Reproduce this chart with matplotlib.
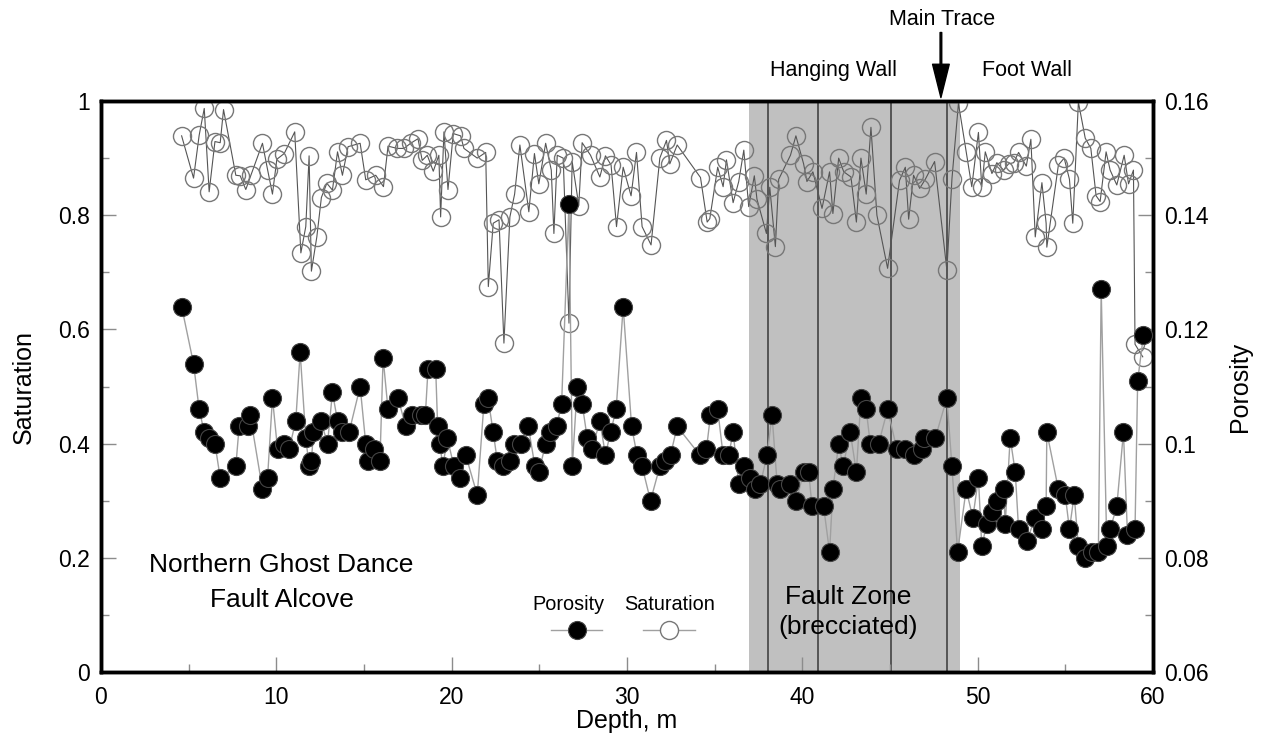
import matplotlib
matplotlib.use('Agg')
import matplotlib.pyplot as plt
from matplotlib.ticker import MultipleLocator, FuncFormatter

plt.rcParams['font.family'] = ['Liberation Sans', 'DejaVu Sans']

# porosity samples (right axis)
por_depth = [4.60, 5.28, 5.60, 5.89, 6.17, 6.50, 6.80, 7.69, 7.88, 8.36,
             8.51, 9.21, 9.50, 9.78, 10.07, 10.45, 10.73, 11.11, 11.36, 11.68,
             11.87, 12.00, 12.12, 12.54, 12.92, 13.20, 13.49, 13.77, 14.15, 14.78,
             15.10, 15.25, 15.57, 15.91, 16.09, 16.37, 16.94, 17.38, 17.76, 18.23,
             18.50, 18.65, 19.09, 19.20, 19.32, 19.50, 19.75, 20.13, 20.47, 20.80,
             21.46, 21.84, 22.07, 22.37, 22.60, 22.94, 23.32, 23.55, 23.97, 24.37,
             24.75, 24.97, 25.36, 25.60, 25.98, 26.27, 26.69, 26.88, 27.16, 27.44,
             27.73, 28.01, 28.45, 28.77, 29.06, 29.38, 29.78, 30.26, 30.57, 30.86,
             31.34, 31.87, 32.19, 32.48, 32.86, 34.15, 34.53, 34.76, 35.17, 35.48,
             35.80, 36.05, 36.37, 36.66, 37.04, 37.32, 37.61, 37.99, 38.27, 38.56,
             38.75, 39.32, 39.66, 40.07, 40.36, 40.55, 41.21, 41.55, 41.74, 42.07,
             42.32, 42.73, 43.08, 43.34, 43.64, 43.87, 44.35, 44.86, 45.39, 45.87,
             46.34, 46.82, 46.95, 47.58, 48.24, 48.53, 48.85, 49.34, 49.72, 50.04,
             50.23, 50.52, 50.81, 51.09, 51.47, 51.57, 51.85, 52.14, 52.33, 52.80,
             53.28, 53.66, 53.90, 53.94, 54.60, 54.99, 55.23, 55.50, 55.74, 56.13,
             56.50, 56.88, 57.04, 57.36, 57.55, 57.93, 58.31, 58.54, 58.97, 59.12,
             59.45]
porosity = [0.124, 0.114, 0.106, 0.102, 0.101, 0.100, 0.094, 0.096, 0.103, 0.103,
            0.105, 0.092, 0.094, 0.108, 0.099, 0.100, 0.099, 0.104, 0.116, 0.101,
            0.096, 0.097, 0.102, 0.104, 0.100, 0.109, 0.104, 0.102, 0.102, 0.110,
            0.100, 0.097, 0.099, 0.097, 0.115, 0.106, 0.108, 0.103, 0.105, 0.105,
            0.105, 0.113, 0.113, 0.103, 0.100, 0.096, 0.101, 0.096, 0.094, 0.098,
            0.091, 0.107, 0.108, 0.102, 0.097, 0.096, 0.097, 0.100, 0.100, 0.103,
            0.096, 0.095, 0.100, 0.102, 0.103, 0.107, 0.142, 0.096, 0.110, 0.107,
            0.101, 0.099, 0.104, 0.098, 0.102, 0.106, 0.124, 0.103, 0.098, 0.096,
            0.090, 0.096, 0.097, 0.098, 0.103, 0.098, 0.099, 0.105, 0.106, 0.098,
            0.098, 0.102, 0.093, 0.096, 0.094, 0.092, 0.093, 0.098, 0.105, 0.093,
            0.092, 0.093, 0.090, 0.095, 0.095, 0.089, 0.089, 0.081, 0.092, 0.100,
            0.096, 0.102, 0.095, 0.108, 0.106, 0.100, 0.100, 0.106, 0.099, 0.099,
            0.098, 0.099, 0.101, 0.101, 0.108, 0.096, 0.081, 0.092, 0.087, 0.094,
            0.082, 0.086, 0.088, 0.090, 0.092, 0.086, 0.101, 0.095, 0.085, 0.083,
            0.087, 0.085, 0.089, 0.102, 0.092, 0.091, 0.085, 0.091, 0.082, 0.080,
            0.081, 0.081, 0.127, 0.082, 0.085, 0.089, 0.102, 0.084, 0.085, 0.111,
            0.119]

# saturation samples (left axis)
sat_depth = [4.60, 5.28, 5.60, 5.89, 6.17, 6.50, 6.80, 6.99, 7.69, 7.94,
             8.26, 8.55, 9.21, 9.50, 9.78, 10.03, 10.45, 11.05, 11.40, 11.68,
             11.87, 12.00, 12.31, 12.57, 12.88, 13.20, 13.49, 13.77, 14.09, 14.78,
             15.10, 15.67, 16.11, 16.37, 16.90, 17.28, 17.66, 18.08, 18.32, 18.61,
             18.95, 19.27, 19.37, 19.56, 19.79, 20.09, 20.51, 20.70, 21.46, 21.94,
             22.09, 22.37, 22.70, 22.98, 23.32, 23.59, 23.89, 24.40, 24.72, 24.97,
             25.36, 25.68, 25.83, 26.02, 26.36, 26.69, 26.87, 27.25, 27.44, 27.92,
             28.45, 28.77, 29.09, 29.40, 29.78, 30.23, 30.54, 30.86, 31.37, 31.87,
             32.25, 32.44, 32.86, 34.19, 34.57, 34.72, 35.17, 35.48, 35.67, 36.05,
             36.37, 36.66, 36.94, 37.26, 37.41, 37.95, 38.14, 38.46, 38.65, 39.32,
             39.63, 40.07, 40.26, 40.60, 41.12, 41.55, 41.74, 42.07, 42.36, 42.77,
             43.08, 43.34, 43.64, 43.91, 44.25, 44.86, 45.54, 45.87, 46.06, 46.34,
             46.69, 47.01, 47.54, 48.24, 48.53, 48.90, 49.34, 49.66, 50.04, 50.23,
             50.43, 50.81, 51.09, 51.47, 51.76, 52.05, 52.33, 52.77, 53.03, 53.28,
             53.66, 53.90, 53.94, 54.60, 54.93, 55.23, 55.42, 55.74, 56.13, 56.45,
             56.75, 56.98, 57.32, 57.55, 57.93, 58.35, 58.60, 58.88, 58.97, 59.41]
saturation = [0.939, 0.865, 0.940, 0.987, 0.841, 0.929, 0.927, 0.985, 0.870, 0.869,
              0.845, 0.870, 0.926, 0.880, 0.837, 0.898, 0.908, 0.946, 0.734, 0.780,
              0.904, 0.702, 0.762, 0.831, 0.856, 0.844, 0.911, 0.870, 0.920, 0.926,
              0.862, 0.870, 0.850, 0.921, 0.917, 0.917, 0.926, 0.934, 0.896, 0.905,
              0.877, 0.905, 0.797, 0.946, 0.845, 0.943, 0.939, 0.917, 0.900, 0.910,
              0.675, 0.786, 0.792, 0.576, 0.797, 0.837, 0.923, 0.806, 0.908, 0.855,
              0.926, 0.879, 0.768, 0.905, 0.900, 0.611, 0.894, 0.817, 0.927, 0.905,
              0.867, 0.904, 0.888, 0.780, 0.884, 0.834, 0.910, 0.780, 0.748, 0.900,
              0.931, 0.890, 0.923, 0.866, 0.788, 0.794, 0.884, 0.850, 0.897, 0.822,
              0.859, 0.914, 0.815, 0.869, 0.828, 0.768, 0.849, 0.745, 0.863, 0.905,
              0.939, 0.890, 0.859, 0.876, 0.812, 0.876, 0.803, 0.900, 0.876, 0.867,
              0.788, 0.900, 0.837, 0.954, 0.800, 0.707, 0.861, 0.884, 0.793, 0.870,
              0.847, 0.863, 0.894, 0.704, 0.864, 0.996, 0.911, 0.850, 0.945, 0.850,
              0.911, 0.873, 0.892, 0.879, 0.890, 0.892, 0.910, 0.886, 0.933, 0.762,
              0.857, 0.786, 0.744, 0.888, 0.900, 0.863, 0.786, 0.998, 0.935, 0.917,
              0.834, 0.824, 0.911, 0.879, 0.853, 0.905, 0.855, 0.879, 0.574, 0.552]

fault_zone = (36.94, 49.0)
fault_lines = [38.04, 40.87, 45.07, 48.24]
main_trace = 47.9

fig = plt.figure(figsize=(12.62, 7.45), dpi=100)
ax = fig.add_axes([0.080, 0.098, 0.8337, 0.7664])
ax2 = ax.twinx()

ax.axvspan(fault_zone[0], fault_zone[1], color='#c0c0c0', lw=0, zorder=0)
for x in fault_lines:
    ax.axvline(x, color='#555555', lw=1.4, zorder=1)

ax.plot(sat_depth, saturation, color='#555555', lw=0.8, marker='o', ms=13,
        mfc='none', mec='#777777', mew=1.0, zorder=3)
ax2.plot(por_depth, porosity, color='#a0a0a0', lw=1.0, marker='o', ms=13,
         mfc='black', mec='#444444', mew=0.8, zorder=3)

ax.set_xlim(0, 60)
ax.set_ylim(0, 1)
ax2.set_ylim(0.06, 0.16)

fmt = FuncFormatter(lambda v, p: '%g' % round(v, 3))
ax.xaxis.set_major_locator(MultipleLocator(10))
ax.xaxis.set_minor_locator(MultipleLocator(5))
ax.yaxis.set_major_locator(MultipleLocator(0.2))
ax.yaxis.set_minor_locator(MultipleLocator(0.1))
ax2.yaxis.set_major_locator(MultipleLocator(0.02))
ax2.yaxis.set_minor_locator(MultipleLocator(0.01))
ax.yaxis.set_major_formatter(fmt)
ax2.yaxis.set_major_formatter(fmt)

for a in (ax, ax2):
    a.tick_params(which='major', direction='in', length=11, width=1,
                  color='#8c8c8c', labelsize=16.5, pad=8)
    a.tick_params(which='minor', direction='in', length=6, width=1,
                  color='#8c8c8c')
    for s in a.spines.values():
        s.set_linewidth(2.5)
        s.set_color('black')
ax.tick_params(axis='x', which='both', top=False, pad=10)

ax.set_xlabel('Depth, m', fontsize=18, labelpad=0)
ax.set_ylabel('Saturation', fontsize=18, labelpad=16)
ax2.set_ylabel('Porosity', fontsize=18, labelpad=14)

# annotations
ax.text(10.3, 0.157, 'Northern Ghost Dance\nFault Alcove', fontsize=19,
        ha='center', va='center', linespacing=1.55)
ax.text(42.6, 0.105, 'Fault Zone\n(brecciated)', fontsize=19,
        ha='center', va='center', linespacing=1.35, zorder=5)
ax.text(41.77, 1.054, 'Hanging Wall', fontsize=15.5, ha='center', va='center')
ax.text(52.82, 1.054, 'Foot Wall', fontsize=15.5, ha='center', va='center')
ax.text(47.96, 1.142, 'Main Trace', fontsize=15.5, ha='center', va='center')
ax.annotate('', xy=(main_trace, 1.006), xytext=(main_trace, 1.12),
            arrowprops=dict(facecolor='black', edgecolor='black', width=1.2,
                            headwidth=12, headlength=24, shrink=0),
            annotation_clip=False)

# legend drawn by hand: labels above symbols
ax.text(0.444, 0.119, 'Porosity', transform=ax.transAxes, fontsize=14.3,
        ha='center', va='center')
ax.text(0.540, 0.119, 'Saturation', transform=ax.transAxes, fontsize=14.3,
        ha='center', va='center')
ax.plot([0.428, 0.476], [0.074, 0.074], transform=ax.transAxes,
        color='#a0a0a0', lw=1.0, clip_on=False)
ax.plot([0.452], [0.074], transform=ax.transAxes, marker='o', ms=13,
        mfc='black', mec='#444444', mew=0.8, clip_on=False)
ax.plot([0.515, 0.565], [0.074, 0.074], transform=ax.transAxes,
        color='#a0a0a0', lw=1.0, clip_on=False)
ax.plot([0.540], [0.074], transform=ax.transAxes, marker='o', ms=13,
        mfc='white', mec='#777777', mew=1.0, clip_on=False)

fig.savefig('out.png', dpi=100)
